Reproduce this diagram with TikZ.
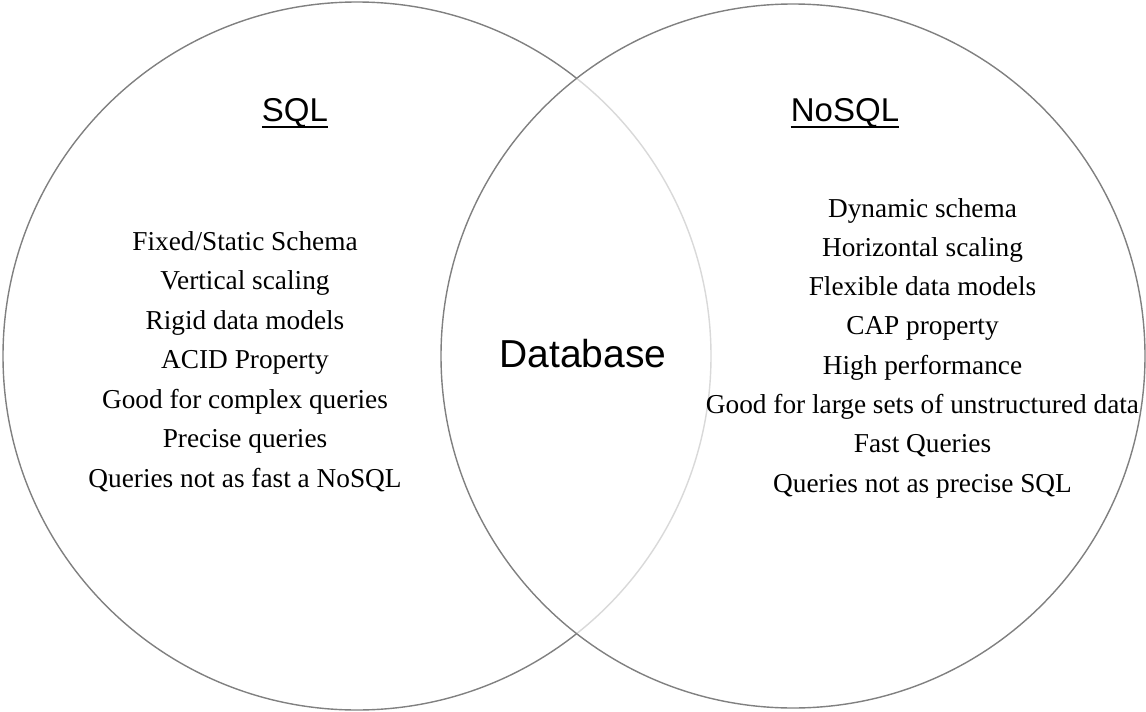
\documentclass[tikz,border=0pt]{standalone}
\usepackage{fontspec}
\setmainfont{Liberation Serif}
\newfontfamily\headfont{Liberation Sans}
\usetikzlibrary{positioning}

\tikzset{
  ring/.style={draw=black!50, line width=1.4pt},
  item/.style={anchor=base, inner sep=0pt, font=\fontsize{27.3}{30}\selectfont},
  heading/.style={anchor=base, inner sep=0pt, font=\headfont\fontsize{33}{36}\selectfont},
}

\begin{document}
\begin{tikzpicture}[x=1pt, y=-1pt]
  \useasboundingbox (0,0) rectangle (1146,712);

  \draw[ring] (357,356) circle (354);
  \draw[ring, fill=white, fill opacity=0.7] (793,356) circle (352);

  \node[heading] (sql) at (295,121) {SQL};
  \node[heading] (nosql) at (845,121) {NoSQL};
  \draw[line width=2.6pt] ([yshift=-6pt]sql.base west) -- ([yshift=-6pt]sql.base east);
  \draw[line width=2.6pt] ([yshift=-6pt]nosql.base west) -- ([yshift=-6pt]nosql.base east);

  \node[anchor=base, inner sep=0pt, font=\headfont\fontsize{39}{42}\selectfont] (db) at (583,367) {Database};

  \foreach \txt [count=\i] in {{Fixed/Static Schema}, Vertical scaling, Rigid data models,
      ACID Property, Good for complex queries, Precise queries, Queries not as fast a NoSQL}
    \node[item] (sql-\i) at (245, 250+39.5*\i-39.5) {\txt};

  \foreach \txt [count=\i] in {Dynamic schema, Horizontal scaling, Flexible data models,
      CAP property, High performance, Good for large sets of unstructured data,
      Fast Queries, Queries not as precise SQL}
    \node[item] (nosql-\i) at (922.5, 217+39.3*\i-39.3) {\txt};
\end{tikzpicture}
\end{document}
